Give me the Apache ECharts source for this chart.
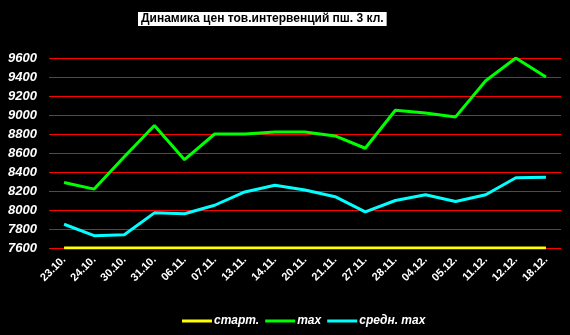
<!DOCTYPE html>
<html><head><meta charset="utf-8">
<script src="https://cdn.jsdelivr.net/npm/echarts@6/dist/echarts.min.js"></script>
<style>html,body{margin:0;padding:0;background:#000}#c{width:570px;height:335px}</style>
</head><body><div id="c"></div>
<script>
var categories = ['23.10.','24.10.','30.10.','31.10.','06.11.','07.11.','13.11.','14.11.','20.11.','21.11.','27.11.','28.11.','04.12.','05.12.','11.12.','12.12.','18.12.'];
var startValues = [7600,7600,7600,7600,7600,7600,7600,7600,7600,7600,7600,7600,7600,7600,7600,7600,7600];
var maxValues = [8290,8220,8560,8890,8530,8800,8800,8820,8820,8780,8650,9050,9020,8980,9360,9600,9400];
var avgMaxValues = [7850,7730,7740,7970,7960,8050,8190,8260,8210,8140,7980,8100,8160,8090,8160,8340,8345];
var seriesNames = ['старт.','max','средн. max'];
var titleText = 'Динамика цен тов.интервенций пш. 3 кл.';

var FF = 'Arial, "Liberation Sans", sans-serif';
var chart = echarts.init(document.getElementById('c'));
chart.setOption({
  backgroundColor: '#000',
  animation: false,
  title: {
    text: titleText, left: 138, top: 12, padding: [1,3,1,3],
    backgroundColor: '#fff',
    textStyle: {color: '#000', fontSize: 12, fontWeight: 'bold', fontFamily: FF}
  },
  legend: {
    data: seriesNames, left: 177, top: 310, itemWidth: 30, itemHeight: 3, itemGap: 6,
    icon: 'rect',
    textStyle: {color: '#fff', fontSize: 12, fontWeight: 'bold', fontStyle: 'italic', fontFamily: FF, padding: [0,0,0,-3]}
  },
  grid: {left: 49, right: 9, top: 58, bottom: 87, containLabel: false},
  xAxis: {
    type: 'category', data: categories, boundaryGap: true,
    axisLine: {show: false}, axisTick: {show: false},
    axisLabel: {rotate: 45, color: '#fff', fontSize: 11, fontWeight: 'bold', fontFamily: FF, margin: 10, interval: 0}
  },
  yAxis: {
    type: 'value', min: 7600, max: 9600, interval: 200,
    axisLine: {show: false}, axisTick: {show: false},
    splitLine: {lineStyle: {color: '#ff0000', width: 1}},
    axisLabel: {color: '#fff', fontSize: 13, fontWeight: 'bold', fontStyle: 'italic', fontFamily: FF, margin: 12,
      formatter: function (v) { return String(v); }}
  },
  series: [
    {name: seriesNames[0], type: 'line', data: startValues, symbol: 'none', lineStyle: {color: '#ffff00', width: 3}, itemStyle: {color: '#ffff00'}},
    {name: seriesNames[1], type: 'line', data: maxValues, symbol: 'none', lineStyle: {color: '#00ff00', width: 3}, itemStyle: {color: '#00ff00'}},
    {name: seriesNames[2], type: 'line', data: avgMaxValues, symbol: 'none', lineStyle: {color: '#00ffff', width: 3}, itemStyle: {color: '#00ffff'}}
  ]
});
</script></body></html>
